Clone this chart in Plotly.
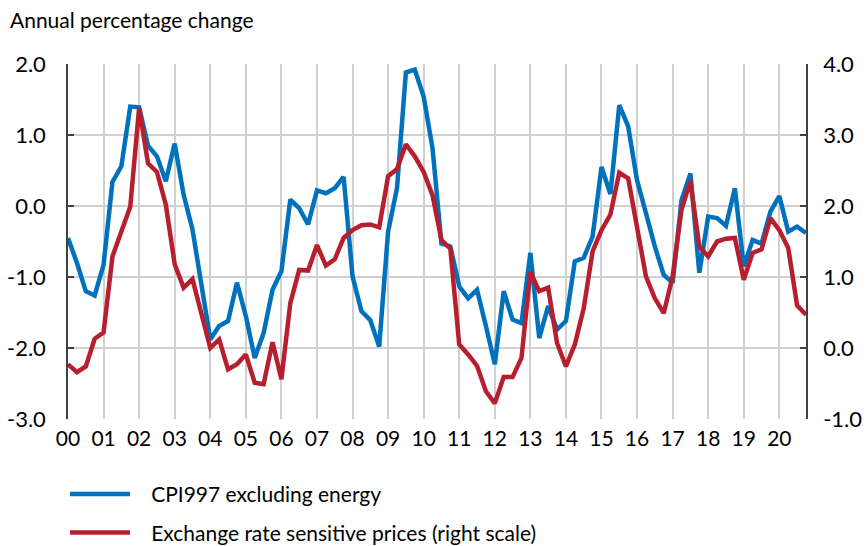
import plotly.graph_objects as go

# Quarterly observations, 2000Q1 .. 2020Q4
start_year = 2000
n_quarters = 84
quarters = [start_year + i * 0.25 for i in range(n_quarters)]

# CPI997 excluding energy (left scale)
cpi_ex_energy = [
    -0.45, -0.80, -1.20, -1.26, -0.83, 0.34, 0.56, 1.40, 1.39, 0.85,
    0.70, 0.35, 0.88, 0.16, -0.33, -1.08, -1.88, -1.69, -1.62, -1.08,
    -1.55, -2.14, -1.79, -1.18, -0.92, 0.09, -0.03, -0.26, 0.22, 0.18,
    0.25, 0.41, -0.99, -1.48, -1.61, -1.98, -0.36, 0.25, 1.88, 1.92,
    1.54, 0.81, -0.53, -0.57, -1.13, -1.30, -1.18, -1.69, -2.23, -1.20,
    -1.60, -1.65, -0.66, -1.86, -1.41, -1.74, -1.62, -0.78, -0.73, -0.43,
    0.55, 0.17, 1.42, 1.12, 0.36, -0.10, -0.57, -0.97, -1.08, 0.08,
    0.46, -0.94, -0.15, -0.17, -0.28, 0.25, -0.85, -0.48, -0.53, -0.08,
    0.14, -0.36, -0.29, -0.38,
]

# Exchange rate sensitive prices (right scale)
fx_sensitive = [
    -0.23, -0.34, -0.26, 0.13, 0.22, 1.29, 1.64, 1.99, 3.38, 2.60,
    2.48, 2.02, 1.18, 0.85, 0.97, 0.49, 0.00, 0.12, -0.30, -0.23,
    -0.09, -0.49, -0.51, 0.08, -0.44, 0.63, 1.10, 1.09, 1.45, 1.16,
    1.25, 1.55, 1.66, 1.73, 1.74, 1.70, 2.42, 2.52, 2.87, 2.70,
    2.48, 2.15, 1.52, 1.40, 0.05, -0.09, -0.25, -0.61, -0.78, -0.41,
    -0.41, -0.14, 1.07, 0.80, 0.85, 0.07, -0.26, 0.05, 0.56, 1.36,
    1.66, 1.88, 2.47, 2.39, 1.71, 1.01, 0.70, 0.49, 1.01, 1.95,
    2.35, 1.43, 1.29, 1.50, 1.54, 1.55, 0.96, 1.34, 1.39, 1.83,
    1.66, 1.41, 0.60, 0.47,
]

series_names = ["CPI997 excluding energy",
                "Exchange rate sensitive prices (right scale)"]

year_ticks = list(range(2000, 2021))
year_labels = [f"{y % 100:02d}" for y in year_ticks]

left_ticks = [-3, -2, -1, 0, 1, 2]
right_ticks = [-1, 0, 1, 2, 3, 4]
left_labels = [f"{v:.1f}" for v in left_ticks]
right_labels = [f"{v:.1f}" for v in right_ticks]

BLUE = "#0071BC"
RED = "#B81F2E"
GRID = "#D0D0D0"
AXIS = "#404040"
FONT = "Lato"
GAP = "\u00a0\u00a0\u00a0"

fig = go.Figure()
fig.add_trace(go.Scatter(
    x=quarters, y=cpi_ex_energy, mode="lines",
    name=GAP + series_names[0],
    line=dict(color=BLUE, width=4.5), legendgroup="a",
))
fig.add_trace(go.Scatter(
    x=quarters, y=fx_sensitive, mode="lines",
    name=GAP + series_names[1],
    line=dict(color=RED, width=4.5), yaxis="y2", legendgroup="b",
))

fig.update_layout(
    width=867, height=546,
    margin=dict(l=68, r=61, t=64, b=127, autoexpand=False),
    paper_bgcolor="white", plot_bgcolor="white",
    font=dict(family=FONT, size=21, color="#000000"),
    xaxis=dict(range=[2000, 2000 + (n_quarters - 1) * 0.25],
               tickvals=year_ticks, ticktext=year_labels,
               showgrid=True, gridcolor=GRID, gridwidth=1.5,
               showline=False, zeroline=False, ticks="",
               ticklabelstandoff=5, tickfont=dict(size=21)),
    yaxis=dict(range=[left_ticks[0], left_ticks[-1]],
               tickvals=left_ticks, ticktext=left_labels,
               showgrid=True, gridcolor=GRID, gridwidth=1.5,
               zeroline=False, showline=True, linecolor=AXIS, linewidth=1.5,
               ticks="inside", ticklen=6, tickcolor=AXIS, tickwidth=1.5,
               ticklabelstandoff=16, tickfont=dict(size=22)),
    yaxis2=dict(range=[right_ticks[0], right_ticks[-1]],
                tickvals=right_ticks, ticktext=right_labels,
                overlaying="y", side="right", showgrid=False,
                zeroline=False, showline=True, linecolor=AXIS, linewidth=1.5,
                ticks="inside", ticklen=6, tickcolor=AXIS, tickwidth=1.5,
                ticklabelstandoff=11, tickfont=dict(size=22)),
    legend=dict(xref="container", yref="container",
                x=0.075, xanchor="left", y=0.132, yanchor="top",
                orientation="v", traceorder="grouped", tracegroupgap=8,
                itemwidth=60, font=dict(family=FONT, size=21),
                bgcolor="rgba(0,0,0,0)"),
    showlegend=True,
    annotations=[dict(text="Annual percentage change", xref="paper", yref="paper",
                      x=-60 / 738, xanchor="left", y=1 + 44 / 355, yanchor="middle",
                      showarrow=False, font=dict(family=FONT, size=21, color="#000000"))],
)

fig.write_html("out.html", config={"displayModeBar": False},
               post_script="document.body.style.margin='0px';")
